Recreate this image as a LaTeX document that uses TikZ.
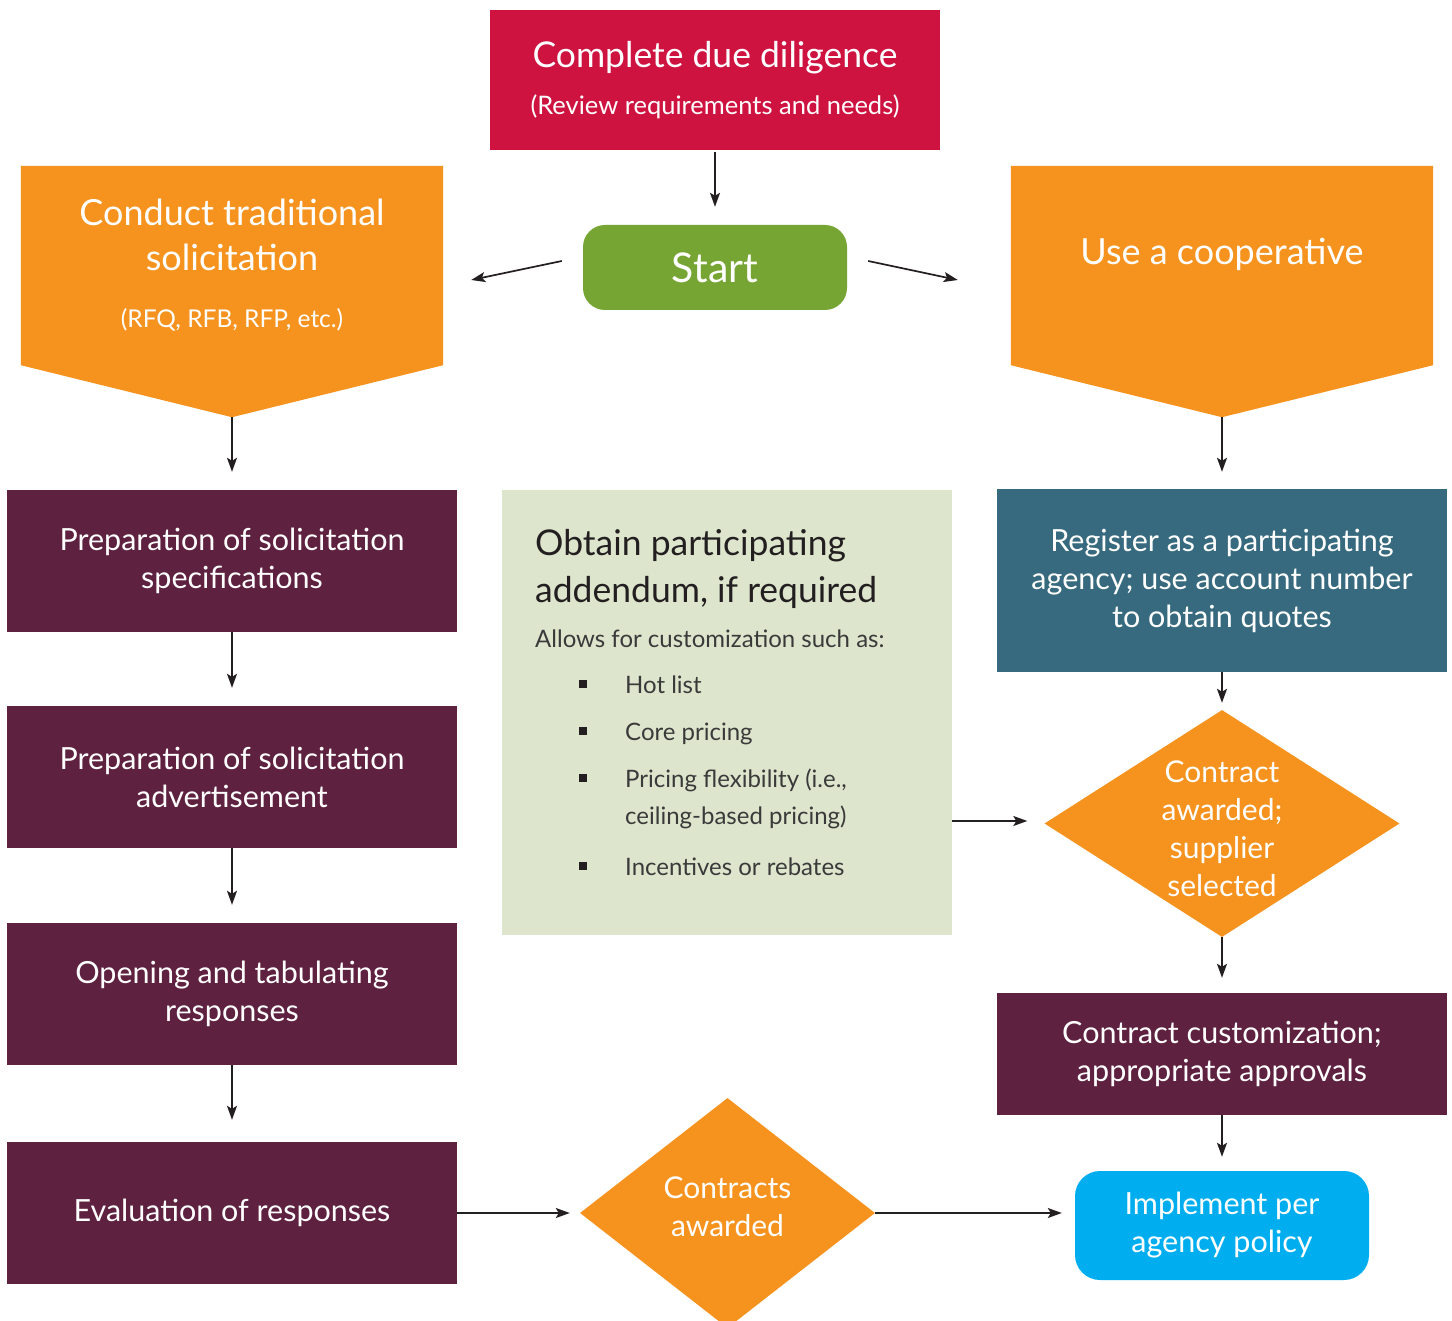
\documentclass[tikz,border=0pt]{standalone}
\usepackage{fontspec}
\setmainfont{Lato}
\usetikzlibrary{shapes.geometric,arrows.meta,backgrounds,calc}
\definecolor{ddred}{HTML}{CE1340}
\definecolor{ornge}{HTML}{F6931F}
\definecolor{stgreen}{HTML}{76A533}
\definecolor{plum}{HTML}{5E2140}
\definecolor{slate}{HTML}{376A7E}
\definecolor{sage}{HTML}{DDE6CD}
\definecolor{sky}{HTML}{00AEEF}
\definecolor{ink}{HTML}{231F20}
\definecolor{greyink}{HTML}{3A3A3A}
\tikzstyle{ddbox}=[rectangle,fill=ddred,text=white,align=center,inner sep=0pt,minimum width=450,minimum height=140,font=\fontsize{35.5}{42}\selectfont]
\tikzstyle{startbox}=[rectangle,rounded corners=22pt,fill=stgreen,text=white,inner sep=0pt,minimum width=264,minimum height=85,font=\fontsize{41}{48}\selectfont]
\tikzstyle{chevron}=[rectangle,text=white,align=center,inner sep=0pt,minimum width=422,minimum height=199,font=\fontsize{36}{45}\selectfont]
\tikzstyle{plumbox}=[rectangle,fill=plum,text=white,align=center,inner sep=0pt,minimum width=450,minimum height=142,font=\fontsize{30.5}{38}\selectfont]
\tikzstyle{slatebox}=[rectangle,fill=slate,text=white,align=center,inner sep=0pt,minimum width=450,minimum height=183,font=\fontsize{30.5}{38}\selectfont]
\tikzstyle{skybox}=[rectangle,rounded corners=25pt,fill=sky,text=white,align=center,inner sep=0pt,minimum width=294,minimum height=109,font=\fontsize{30.5}{38}\selectfont]
\tikzstyle{decision}=[diamond,fill=ornge,inner sep=0pt]
\tikzstyle{dtext}=[text=white,align=center,inner sep=0pt,font=\fontsize{30}{38}\selectfont]
\tikzstyle{notebox}=[rectangle,fill=sage,inner sep=0pt,minimum width=450,minimum height=445]
\tikzstyle{notehead}=[anchor=base west,inner sep=0pt,text=ink,font=\fontsize{35.5}{44}\selectfont]
\tikzstyle{notetext}=[anchor=base west,inner sep=0pt,text=greyink,font=\fontsize{24}{29}\selectfont]
\tikzstyle{sqbullet}=[rectangle,fill=ink,inner sep=0pt,minimum size=8pt]
\tikzstyle{conn}=[-{Stealth[length=14pt,width=10pt,inset=3pt]},line width=1.7pt,draw=ink]

\begin{document}
\begin{tikzpicture}[x=1pt,y=-1pt]
    \useasboundingbox (0,0) rectangle (1452,1321);

    % top
    \node[ddbox] (dd) at (715,80) {Complete due diligence\\[5pt]{\fontsize{25.5}{30}\selectfont (Review requirements and needs)}};
    \node[startbox] (start) at (715,267.5) {Start};
    \node[chevron] (trad) at (232,265.5) {Conduct traditional\\solicitation\\[12pt]{\fontsize{24.5}{28}\selectfont (RFQ, RFB, RFP, etc.)}};
    \node[chevron] (coop) at (1222,265.5) {\raisebox{28pt}{Use a cooperative}};
    \coordinate (tradtip) at ($(trad.south)+(0,52)$);
    \coordinate (cooptip) at ($(coop.south)+(0,52)$);
    \begin{scope}[on background layer]
        \fill[ornge] (trad.north west) -- (trad.north east) -- (trad.south east) -- (tradtip) -- (trad.south west) -- cycle;
        \fill[ornge] (coop.north west) -- (coop.north east) -- (coop.south east) -- (cooptip) -- (coop.south west) -- cycle;
    \end{scope}

    % left column
    \node[plumbox] (spec) at (232,561) {Preparation of solicitation\\specifications};
    \node[plumbox] (advt) at (232,777) {Preparation of solicitation\\advertisement};
    \node[plumbox] (tab) at (232,994) {Opening and tabulating\\responses};
    \node[plumbox] (eval) at (232,1213) {Evaluation of responses};
    \node[decision, minimum width=295, minimum height=230] (awd) at (727.5,1213) {};
    \node[dtext] (awdtxt) at (727.5,1207) {Contracts\\awarded};

    % note
    \node[notebox] (note) at (727,712.5) {};
    \node[notehead] (obt1) at (535,555) {Obtain participating};
    \node[notehead] (obt2) at (535,602) {addendum, if required};
    \node[notetext] (allow) at (535,647) {Allows for customization such as:};
    \foreach \y/\nm/\txt in {693/hot/{Hot list}, 740/core/{Core pricing}, 787/flex/{Pricing flexibility (i.e.,}, 875/inc/{Incentives or rebates}}{
        \node[sqbullet] (b\nm) at (583,\y-9) {};
        \node[notetext] (\nm) at (625,\y) {\txt};
    }
    \node[notetext] (ceil) at (625,824) {ceiling-based pricing)};

    % right column
    \node[slatebox] (reg) at (1222,580.5) {Register as a participating\\agency; use account number\\to obtain quotes};
    \node[decision, minimum width=355, minimum height=227] (sel) at (1222,823.5) {};
    \node[dtext] (seltxt) at (1222,829) {Contract\\awarded;\\supplier\\selected};
    \node[plumbox, minimum height=122] (cust) at (1222,1054) {Contract customization;\\appropriate approvals};
    \node[skybox] (impl) at (1222,1225.5) {Implement per\\agency policy};

    % arrows
    \draw[conn, shorten <=2pt, shorten >=18pt] (dd) -- (start);
    \draw[conn] ($(start.west)+(-21,-6.5)$) -- ($(trad.east)+(28,14.5)$);
    \draw[conn] ($(start.east)+(21,-6.5)$) -- ($(coop.west)+(-53,14.5)$);
    \draw[conn, shorten >=18pt] (tradtip) -- (spec);
    \draw[conn, shorten >=18pt] (spec) -- (advt);
    \draw[conn, shorten >=18pt] (advt) -- (tab);
    \draw[conn, shorten >=22pt] (tab) -- (eval);
    \draw[conn, shorten >=10pt] (eval) -- (awd);
    \draw[conn, shorten >=13pt] (awd.east) -- (awd.east -| impl.west);
    \draw[conn, shorten >=17pt] (cooptip) -- (reg);
    \draw[conn, shorten >=7pt] (reg) -- (sel);
    \draw[conn, shorten >=17pt] (note.east |- 0,821) -- (sel.west |- 0,821);
    \draw[conn, shorten >=15pt] (sel) -- (cust);
    \draw[conn, shorten >=14pt] (cust) -- (impl);

\end{tikzpicture}
\end{document}
